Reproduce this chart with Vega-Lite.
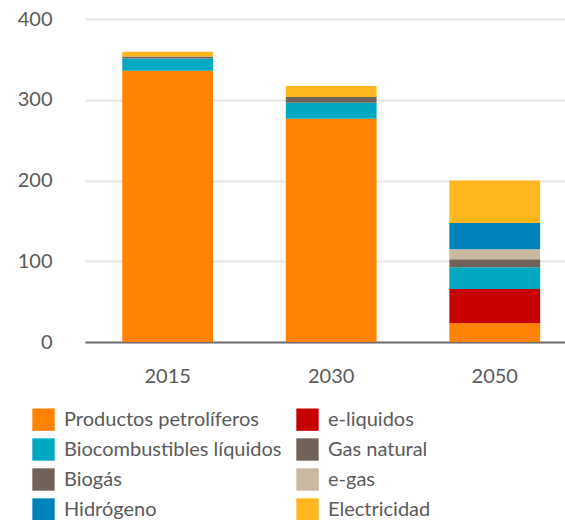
{
  "$schema": "https://vega.github.io/schema/vega-lite/v6.json",
  "width": 480,
  "height": 323,
  "autosize": {"type": "none"},
  "padding": {"left": 85, "top": 19, "right": 0, "bottom": 178},
  "background": "white",
  "data": {
    "values": [
      {"year": "2015", "source": "Productos petrolíferos", "value": 336},
      {"year": "2015", "source": "Biocombustibles líquidos", "value": 15},
      {"year": "2015", "source": "Gas natural", "value": 2.5},
      {"year": "2015", "source": "Electricidad", "value": 6},
      {"year": "2030", "source": "Productos petrolíferos", "value": 276.5},
      {"year": "2030", "source": "Biocombustibles líquidos", "value": 19.8},
      {"year": "2030", "source": "Gas natural", "value": 7},
      {"year": "2030", "source": "Electricidad", "value": 13.7},
      {"year": "2050", "source": "Productos petrolíferos", "value": 23.5},
      {"year": "2050", "source": "e-liquidos", "value": 42},
      {"year": "2050", "source": "Biocombustibles líquidos", "value": 27},
      {"year": "2050", "source": "Biogás", "value": 10},
      {"year": "2050", "source": "e-gas", "value": 12.5},
      {"year": "2050", "source": "Hidrógeno", "value": 32.5},
      {"year": "2050", "source": "Electricidad", "value": 52.5}
    ]
  },
  "transform": [
    {"calculate": "indexof(['Productos petrolíferos', 'e-liquidos', 'Biocombustibles líquidos', 'Gas natural', 'Biogás', 'e-gas', 'Hidrógeno', 'Electricidad'], datum.source)", "as": "stackRank"}
  ],
  "mark": {"type": "bar"},
  "encoding": {
    "x": {
      "field": "year",
      "type": "nominal",
      "title": null,
      "scale": {"paddingInner": 0.445, "paddingOuter": 0.19, "align": 0.6},
      "axis": {
        "labelAngle": 0,
        "ticks": false,
        "labelPadding": 24,
        "labelFontSize": 20,
        "labelColor": "#5a5a5a",
        "labelFont": "Lato",
        "domainColor": "#6e6e6e",
        "domainWidth": 2,
        "grid": false
      }
    },
    "y": {
      "field": "value",
      "type": "quantitative",
      "stack": "zero",
      "title": null,
      "scale": {"domain": [0, 400]},
      "axis": {
        "values": [0, 100, 200, 300, 400],
        "ticks": false,
        "domain": false,
        "labelPadding": 33,
        "labelFontSize": 20,
        "labelColor": "#5a5a5a",
        "labelFont": "Lato",
        "gridColor": "#e6e6e6",
        "gridWidth": 2
      }
    },
    "order": {"field": "stackRank", "type": "quantitative", "sort": "ascending"},
    "color": {
      "field": "source",
      "type": "nominal",
      "sort": ["Productos petrolíferos", "Biocombustibles líquidos", "Biogás", "Hidrógeno", "e-liquidos", "Gas natural", "e-gas", "Electricidad"],
      "scale": {
        "domain": ["Productos petrolíferos", "Biocombustibles líquidos", "Biogás", "Hidrógeno", "e-liquidos", "Gas natural", "e-gas", "Electricidad"],
        "range": ["#ff8200", "#00a8c2", "#706259", "#0083bd", "#c70000", "#706259", "#c9b9a0", "#ffb71d"]
      },
      "legend": {
        "title": null,
        "orient": "none",
        "legendX": -53,
        "legendY": 389,
        "columns": 2,
        "columnPadding": 14,
        "rowPadding": 7,
        "symbolType": "square",
        "symbolSize": 500,
        "symbolStrokeWidth": 0,
        "symbolOpacity": 1,
        "labelFontSize": 20,
        "labelFont": "Lato",
        "labelColor": "#5a5a5a",
        "labelOffset": 9,
        "labelLimit": 300
      }
    }
  },
  "config": {
    "view": {"stroke": null}
  }
}
